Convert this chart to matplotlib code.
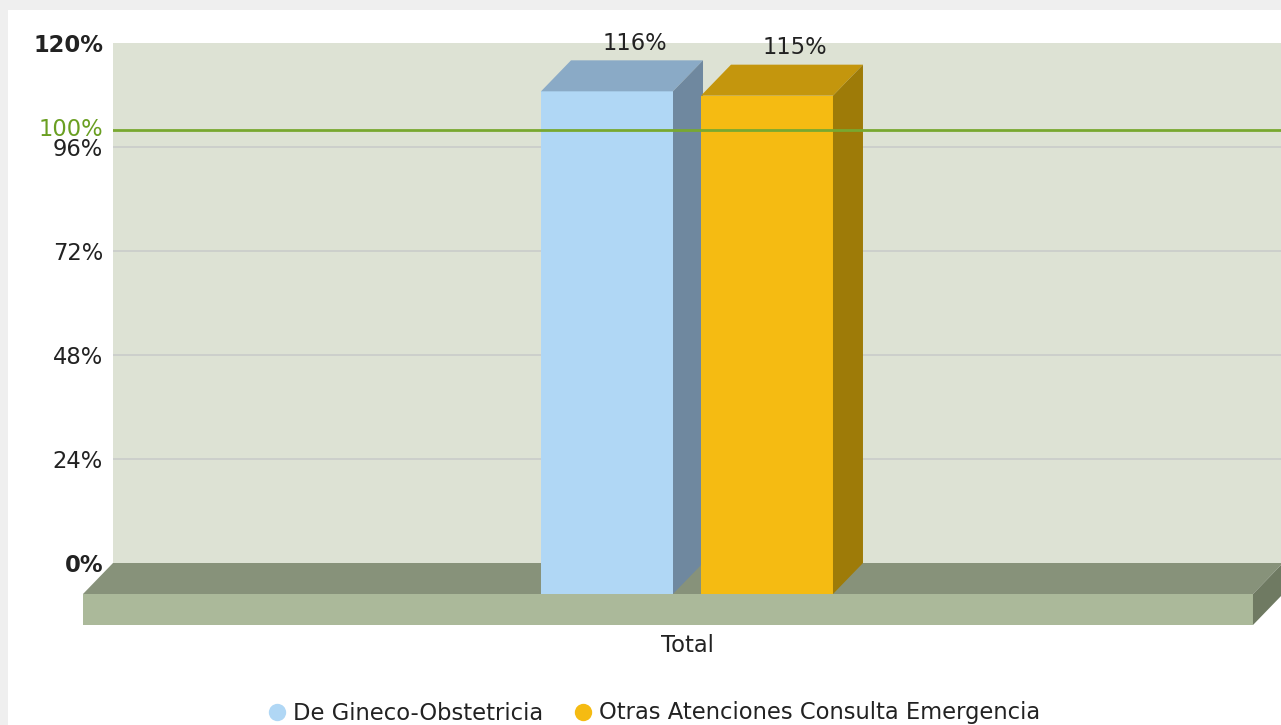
import matplotlib
matplotlib.use("Agg")
import matplotlib.pyplot as plt
from matplotlib.patches import Polygon, Rectangle
from matplotlib.lines import Line2D
from matplotlib.transforms import IdentityTransform, ScaledTranslation
import numpy as np

# ---------------- data ----------------
categories = ["Total"]
series_names = ["De Gineco-Obstetricia", "Otras Atenciones Consulta Emergencia"]
series_values = [116, 115]
yticks = [0, 24, 48, 72, 96, 120]
target_value = 100

# ---------------- style ----------------
W, H, DPI = 1281, 725, 100
FS = 16.3
TXT = "#222222"
front_cols = ["#b0d7f5", "#f5bb12"]
top_cols = ["#8aaac6", "#c4960d"]
side_cols = ["#6f889f", "#9e7b08"]
wall_col = "#dde2d4"
floor_top = "#87927a"
floor_front = "#abb99a"
floor_side = "#6f7a62"
grid_col = "#cbcecb"
green = "#78a830"

DX, DY = 30, 31          # depth offset in pixels (back = front + (DX, DY))
FLOOR_T = 31             # floor thickness px

fig = plt.figure(figsize=(W / DPI, H / DPI), dpi=DPI)
fig.patch.set_facecolor("#efefef")
fig.add_artist(Rectangle((8 / W, 0), 1, 1 - 10 / H, transform=fig.transFigure,
                         facecolor="white", edgecolor="none", zorder=0))

ax = fig.add_axes([113 / W, (H - 563) / H, (W - 113) / W, 520 / H])
ax.set_facecolor(wall_col)
ax.set_ylim(0, 120)
ax.set_xlim(-4.576, 4.273)
for s in ax.spines.values():
    s.set_visible(False)
ax.set_xticks([])
ax.set_yticks(yticks)
ax.set_yticklabels([f"{v}%" for v in yticks], fontsize=FS, color=TXT)
for lab, v in zip(ax.get_yticklabels(), yticks):
    if v in (0, 120):
        lab.set_fontweight("bold")
ax.tick_params(axis="y", length=0, pad=7.2)

for v in yticks[1:-1]:
    ax.axhline(v, color=grid_col, lw=1.3, zorder=1)

def P(x, y, front):
    p = ax.transData.transform((x, y))
    if front:
        p = p - np.array([DX, DY])
    return p

def poly(pts, color, z):
    ax.add_patch(Polygon(np.array(pts), closed=True, transform=IdentityTransform(),
                         facecolor=color, edgecolor="none", clip_on=False, zorder=z))

# floor
x0, x1 = ax.get_xlim()
x1f = x1 + 0.015
down = np.array([0, FLOOR_T])
poly([P(x0, 0, False), P(x1f, 0, False), P(x1f, 0, True), P(x0, 0, True)], floor_top, 2)
poly([P(x0, 0, True), P(x1f, 0, True), P(x1f, 0, True) - down, P(x0, 0, True) - down], floor_front, 2)
poly([P(x1f, 0, True), P(x1f, 0, False), P(x1f, 0, False) - down, P(x1f, 0, True) - down], floor_side, 2)

# bars
bar_w = 1.0
centers = [-0.606, 0.606]
for i, (c, v) in enumerate(zip(centers, series_values)):
    l, r = c - bar_w / 2, c + bar_w / 2
    poly([P(l, 0, True), P(r, 0, True), P(r, v, True), P(l, v, True)], front_cols[i], 3 + i)
    poly([P(l, v, True), P(r, v, True), P(r, v, False), P(l, v, False)], top_cols[i], 3 + i)
    poly([P(r, 0, True), P(r, v, True), P(r, v, False), P(r, 0, False)], side_cols[i], 3 + i)
    ax.annotate(f"{v}%", xy=(c, v), xytext=(-1.5, 7.5), textcoords="offset points",
                ha="center", va="baseline", fontsize=FS, color=TXT, annotation_clip=False,
                zorder=8)

# target line
ax.axhline(target_value, color=green, lw=2, zorder=10)
ax.annotate(f"{target_value}%", xy=(0, target_value), xycoords=("axes fraction", "data"),
            xytext=(-7.2, 0), textcoords="offset points", ha="right", va="center",
            fontsize=FS, color="#6a9f22", annotation_clip=False)

# category label (front plane)
front_tr = ax.transData + ScaledTranslation(-DX / DPI, -DY / DPI, fig.dpi_scale_trans)
ax.annotate(categories[0], xy=(0, 0), xycoords=front_tr, xytext=(0, -51 * 0.72),
            textcoords="offset points", ha="center", va="center", fontsize=FS,
            color=TXT, annotation_clip=False)

# legend
handles = [Line2D([], [], marker="o", linestyle="none", markersize=12.5,
                  markerfacecolor=front_cols[i], markeredgecolor="none")
           for i in range(len(series_names))]
leg = fig.legend(handles, series_names, loc="center", ncol=2,
                 bbox_to_anchor=(654 / W, 1 - 713 / H), frameon=False, fontsize=FS,
                 handlelength=0.8, handletextpad=0.31, columnspacing=1.33, borderpad=0)
for t in leg.get_texts():
    t.set_color(TXT)

fig.savefig("out.png", dpi=DPI)
